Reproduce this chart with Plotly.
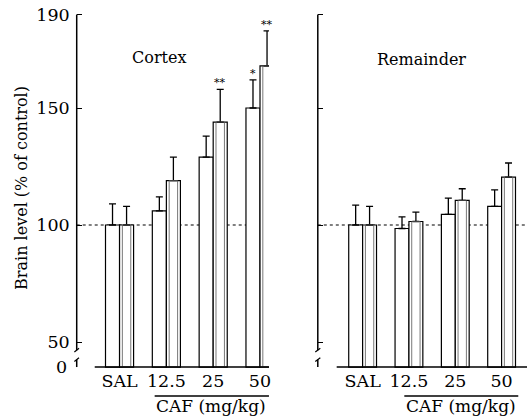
import plotly.graph_objects as go

# ---- data ----
groups = ["SAL", "12.5", "25", "50"]
cortex_open = [100, 106, 129, 150]
cortex_open_err = [9, 6, 9, 12]
cortex_dbl = [100, 119, 144, 168]
cortex_dbl_err = [8, 10, 14, 15]
cortex_open_sig = ["", "", "", "*"]
cortex_dbl_sig = ["", "", "**", "**"]

remainder_open = [100, 98.5, 104.5, 108]
remainder_open_err = [8.5, 5, 7, 7]
remainder_dbl = [100, 101.5, 110.5, 120.5]
remainder_dbl_err = [8, 4, 5, 6]
remainder_open_sig = ["", "", "", ""]
remainder_dbl_sig = ["", "", "", ""]

y_tickvals = [50, 100, 150, 190]
y_ticktext = ["50", "100", "150", "190"]
zero_label = "0"
panel_titles = ["Cortex", "Remainder"]
dose_title = "CAF (mg/kg)"
y_title = "Brain level (% of control)"

# ---- display constants ----
W, H = 529, 416
FONT = "DejaVu Serif"
BASE = 39.3          # broken-axis floor where "0" is drawn
YR = [BASE - 0.8, 195]
BW = 0.30            # bar width (group units)
INSET = 0.06

xpos = list(range(len(groups)))

fig = go.Figure()

def add_panel(xa, ya, opn, opn_err, dbl, dbl_err, sig_o, sig_d):
    n = len(opn)
    fig.add_trace(go.Bar(
        x=xpos, y=[v - BASE for v in opn], base=[BASE] * n,
        width=BW, offset=-BW,
        marker=dict(color="white", line=dict(color="black", width=1.2)),
        error_y=dict(type="data", array=opn_err, arrayminus=[0] * n, symmetric=False,
                     color="black", thickness=1.3, width=3.5),
        xaxis=xa, yaxis=ya, showlegend=False, hoverinfo="skip"))
    fig.add_trace(go.Bar(
        x=xpos, y=[v - BASE for v in dbl], base=[BASE] * n,
        width=BW, offset=0,
        marker=dict(color="white", line=dict(color="black", width=1.2)),
        error_y=dict(type="data", array=dbl_err, arrayminus=[0] * n, symmetric=False,
                     color="black", thickness=1.3, width=3.5),
        xaxis=xa, yaxis=ya, showlegend=False, hoverinfo="skip"))
    fig.add_trace(go.Bar(
        x=xpos, y=[v - BASE for v in dbl], base=[BASE] * n,
        width=BW - 2 * INSET, offset=INSET,
        marker=dict(color="rgba(0,0,0,0)", line=dict(color="#555", width=0.8)),
        xaxis=xa, yaxis=ya, showlegend=False, hoverinfo="skip"))
    xr = "x" if xa == "x" else "x2"
    yr = "y" if ya == "y" else "y2"
    for i in range(n):
        if sig_o[i]:
            fig.add_annotation(x=xpos[i] - BW / 2, y=opn[i] + opn_err[i], text=sig_o[i],
                               xref=xr, yref=yr, showarrow=False, yanchor="bottom",
                               xanchor="center", yshift=-2,
                               font=dict(family=FONT, size=11, color="black"))
        if sig_d[i]:
            fig.add_annotation(x=xpos[i] + BW / 2, y=dbl[i] + dbl_err[i], text=sig_d[i],
                               xref=xr, yref=yr, showarrow=False, yanchor="bottom",
                               xanchor="center", yshift=-2,
                               font=dict(family=FONT, size=11, color="black"))

add_panel("x", "y", cortex_open, cortex_open_err, cortex_dbl, cortex_dbl_err,
          cortex_open_sig, cortex_dbl_sig)
add_panel("x2", "y2", remainder_open, remainder_open_err, remainder_dbl, remainder_dbl_err,
          remainder_open_sig, remainder_dbl_sig)

def px_x(p):
    return p / W

def px_y(p):
    return 1 - p / H

# y domain from pixel mapping: value 100 -> 225px, 2.34 px/unit
ytop_px = 225 - (YR[1] - 100) * 2.34
ybot_px = 225 - (YR[0] - 100) * 2.34
ydom = [px_y(ybot_px), px_y(ytop_px)]

# x axes: left axis line at 77px, group 0 at 120px, 47 px/group
L0, L1, LC, LS = 77, 270, 120, 47
R0, R1, RC, RS = 319, 529, 364, 46.5
xr1 = [-(LC - L0) / LS, (L1 - LC) / LS]
xr2 = [-(RC - R0) / RS, (R1 - RC) / RS]

tickfont = dict(family=FONT, size=17.5, color="black")
common_y = dict(range=YR, domain=ydom, showgrid=False, zeroline=False, showline=False,
                ticks="inside", ticklen=5, tickwidth=1.3, tickcolor="black",
                tickvals=y_tickvals)
fig.update_layout(
    width=W, height=H, margin=dict(l=0, r=0, t=0, b=0),
    plot_bgcolor="white", paper_bgcolor="white", barmode="overlay",
    font=dict(family=FONT, color="black"),
    xaxis=dict(domain=[px_x(L0), px_x(L1)], range=xr1, showgrid=False, zeroline=False,
               showline=False, ticks="", tickvals=xpos, ticktext=groups, tickfont=tickfont,
               anchor="y", ticklabelstandoff=0),
    xaxis2=dict(domain=[px_x(R0), px_x(R1)], range=xr2, showgrid=False, zeroline=False,
                showline=False, ticks="", tickvals=xpos, ticktext=groups, tickfont=tickfont,
                anchor="y2", ticklabelstandoff=0),
    yaxis=dict(**common_y, ticktext=y_ticktext, tickfont=tickfont, anchor="x",
               ticklabelstandoff=6),
    yaxis2=dict(**common_y, showticklabels=False, anchor="x2"),
)

# axis label "0" at broken floor
fig.add_annotation(x=0, xref="x domain", y=BASE, yref="y", text=zero_label, showarrow=False,
                   xanchor="right", xshift=-8, font=tickfont)

for xd, yd in (("x domain", "y"), ("x2 domain", "y2")):
    # vertical axis with break
    fig.add_shape(type="line", xref=xd, yref=yd, x0=0, x1=0, y0=46.5, y1=190,
                  line=dict(color="black", width=1.5))
    fig.add_shape(type="line", xref=xd, yref=yd, x0=0, x1=0, y0=BASE, y1=42.5,
                  line=dict(color="black", width=1.5))
    for yy in (46.5, 42.5):
        fig.add_shape(type="line", xref=xd, yref=yd, x0=-0.012, x1=0.012, y0=yy - 0.8,
                      y1=yy + 0.8, line=dict(color="black", width=1.2))
    # dotted control line
    fig.add_shape(type="line", xref=xd, yref=yd, x0=0, x1=1, y0=100, y1=100,
                  line=dict(color="black", width=1.2, dash="dot"), layer="below")

# baselines
fig.add_shape(type="line", xref="x", yref="y", x0=-0.53, x1=xr1[1], y0=BASE, y1=BASE,
              line=dict(color="black", width=1.5))
fig.add_shape(type="line", xref="x2", yref="y2", x0=-0.56, x1=xr2[1], y0=BASE, y1=BASE,
              line=dict(color="black", width=1.5))

# panel titles
fig.add_annotation(x=px_x(160), xref="paper", y=px_y(58), yref="paper", text=panel_titles[0],
                   showarrow=False, xanchor="center", yanchor="middle",
                   font=dict(family=FONT, size=16, color="black"))
fig.add_annotation(x=px_x(423), xref="paper", y=px_y(60), yref="paper", text=panel_titles[1],
                   showarrow=False, xanchor="center", yanchor="middle",
                   font=dict(family=FONT, size=16, color="black"))

# dose bracket lines and titles
for (xa, x0, x1) in (("x", 0.75, xr1[1]), ("x2", 0.9, 3.36)):
    fig.add_shape(type="line", xref=xa, yref="paper", x0=x0, x1=x1,
                  y0=px_y(396), y1=px_y(396), line=dict(color="black", width=1.3))
for cx in (212, 463):
    fig.add_annotation(x=px_x(cx), xref="paper", y=px_y(406), yref="paper", text=dose_title,
                       showarrow=False, xanchor="center", yanchor="middle",
                       font=dict(family=FONT, size=17, color="black"))

# y title
fig.add_annotation(x=px_x(22), xref="paper", y=px_y(188), yref="paper", text=y_title,
                   textangle=-90, showarrow=False, xanchor="center", yanchor="middle",
                   font=dict(family=FONT, size=16, color="black"))

fig.write_html("out.html", config={"displayModeBar": False},
               post_script="document.body.style.margin='0px';")
